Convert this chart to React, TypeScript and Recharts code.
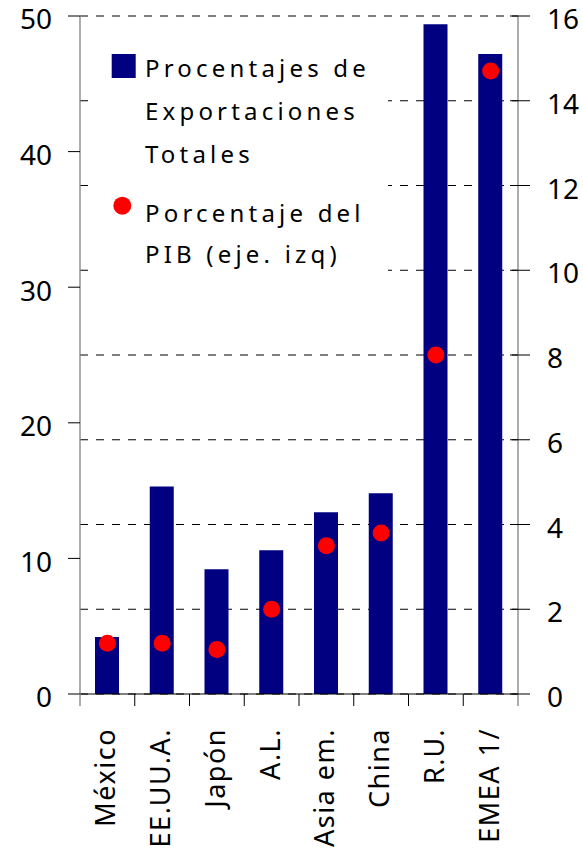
import React from 'react';
import { ComposedChart, Bar, Scatter, XAxis, YAxis, CartesianGrid, Legend } from 'recharts';

const categories = ['México', 'EE.UU.A.', 'Japón', 'A.L.', 'Asia em.', 'China', 'R.U.', 'EMEA 1/'];
const exportShare = [4.2, 15.3, 9.2, 10.6, 13.4, 14.8, 49.4, 47.2];
const gdpShare = [1.2, 1.2, 1.05, 2.0, 3.5, 3.8, 8.0, 14.7];
const leftTicks = [0, 10, 20, 30, 40, 50];
const rightTicks = [0, 2, 4, 6, 8, 10, 12, 14, 16];
const seriesNames = ['Procentajes de Exportaciones Totales', 'Porcentaje del PIB (eje. izq)'];
const legendLines1 = ['Procentajes de', 'Exportaciones', 'Totales'];
const legendLines2 = ['Porcentaje del', 'PIB (eje. izq)'];

const data = categories.map((c, i) => ({ name: c, exports: exportShare[i], gdp: gdpShare[i] }));

const FONT = '"Noto Sans", sans-serif';

const XTick = (props: any) => {
  const { x, y, payload, index } = props;
  const half = payload && payload.offset ? payload.offset : 27.375;
  const y0 = y - 34;
  return (
    <g>
      <line x1={x - half} x2={x - half} y1={y0} y2={y0 + 12} stroke={index === 0 ? '#808080' : '#000'} strokeWidth={index === 0 ? 1.3 : 1} />
      {index === categories.length - 1 && (
        <line x1={x + half} x2={x + half} y1={y0} y2={y0 + 12} stroke="#808080" strokeWidth={1.3} />
      )}
      <text
        transform={`translate(${x},${y}) rotate(-90)`}
        textAnchor="end"
        dy="0.3em"
        fontSize={27}
        fontFamily={FONT}
        letterSpacing={1.5}
        fill="#000"
      >
        {payload.value}
      </text>
    </g>
  );
};

const LeftTick = (props: any) => {
  const { x, y, payload } = props;
  return (
    <text x={x} y={y} dy="0.48em" textAnchor="end" fontSize={28} fontFamily={FONT} fill="#000">
      {payload.value}
    </text>
  );
};

const RightTick = (props: any) => {
  const { x, y, payload } = props;
  return (
    <g>
      <line x1={x - 37} x2={x - 17} y1={y} y2={y} stroke="#000" />
      <text x={x} y={y} dy="0.47em" textAnchor="start" fontSize={28} fontFamily={FONT} fill="#000">
        {payload.value}
      </text>
    </g>
  );
};

const LegendBox = () => (
  <svg width={300} height={264} style={{ display: 'block' }}>
    <rect x={23.7} y={28} width={24} height={24} fill="#000080" />
    {legendLines1.map((t, i) => (
      <text key={t} x={57} y={50.7 + i * 43.3} fontSize={24} fontFamily={FONT} letterSpacing={4.2} fill="#000">
        {t}
      </text>
    ))}
    <circle cx={34.3} cy={179.7} r={9} fill="#FF0000" />
    {legendLines2.map((t, i) => (
      <text key={t} x={57} y={195.7 + i * 41.6} fontSize={24} fontFamily={FONT} letterSpacing={4.2} fill="#000">
        {t}
      </text>
    ))}
  </svg>
);

export default function App() {
  return (
    <div style={{ position: 'absolute', left: 0, top: 0, background: '#fff' }}>
      <ComposedChart width={583} height={860} data={data} margin={{ top: 16, right: 0, bottom: 0, left: 0 }}>
        <CartesianGrid yAxisId="right" vertical={false} stroke="#000" strokeDasharray="8 8" />
        <XAxis
          dataKey="name"
          interval={0}
          height={166}
          axisLine={{ stroke: '#000' }}
          tickLine={false}
          tickSize={12}
          tickMargin={22}
          tick={<XTick />}
        />
        <YAxis
          yAxisId="left"
          orientation="left"
          width={80}
          domain={[0, 50]}
          ticks={leftTicks}
          interval={0}
          axisLine={{ stroke: '#808080', strokeWidth: 1.3 }}
          tickLine={{ stroke: '#000' }}
          tickSize={12}
          tickMargin={16}
          tick={<LeftTick />}
        />
        <YAxis
          yAxisId="right"
          orientation="right"
          width={65}
          domain={[0, 16]}
          ticks={rightTicks}
          interval={0}
          axisLine={{ stroke: '#808080', strokeWidth: 1.3 }}
          tickLine={false}
          tickSize={12}
          tickMargin={17}
          tick={<RightTick />}
        />
        <Bar yAxisId="left" dataKey="exports" name={seriesNames[0]} fill="#000080" barSize={24} isAnimationActive={false} />
        <Scatter
          yAxisId="right"
          dataKey="gdp"
          name={seriesNames[1]}
          fill="#FF0000"
          isAnimationActive={false}
          shape={(p: any) => <circle cx={p.cx} cy={p.cy} r={8.5} fill="#FF0000" />}
        />
        <Legend
          layout="horizontal"
          align="center"
          verticalAlign="middle"
          wrapperStyle={{ position: 'absolute', left: 88, top: 26, width: 300, height: 264, backgroundColor: '#fff' }}
          content={() => <LegendBox />}
        />
      </ComposedChart>
    </div>
  );
}
